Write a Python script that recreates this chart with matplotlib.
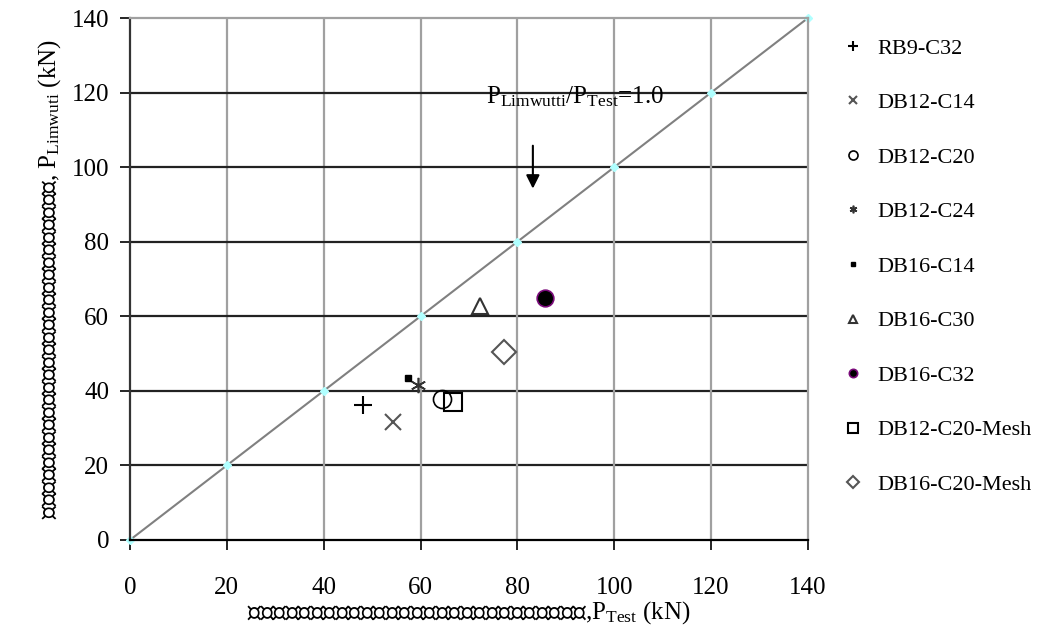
import matplotlib
matplotlib.use("Agg")
import matplotlib.pyplot as plt
from matplotlib import font_manager
from matplotlib.ft2font import FT2Font

# look for any installed font that has Thai glyphs
thai_fonts = []
for f in font_manager.fontManager.ttflist:
    try:
        if 0x0E01 in FT2Font(f.fname).get_charmap():
            thai_fonts.append(f.name)
    except Exception:
        pass
thai_fonts = sorted(set(thai_fonts))

plt.rcParams['font.family'] = ['Liberation Serif'] + thai_fonts + ['DejaVu Sans']
plt.rcParams['mathtext.fontset'] = 'custom'
plt.rcParams['mathtext.rm'] = 'Liberation Serif'
plt.rcParams['mathtext.it'] = 'Liberation Serif:italic'

# data
series_names = ['RB9-C32', 'DB12-C14', 'DB12-C20', 'DB12-C24', 'DB16-C14',
                'DB16-C30', 'DB16-C32', 'DB12-C20-Mesh', 'DB16-C20-Mesh']
p_test = [48.1, 54.3, 64.4, 59.5, 57.4, 72.3, 85.7, 66.7, 77.2]
p_calc = [36.2, 31.6, 37.8, 41.6, 43.4, 62.7, 64.9, 37.0, 50.4]
ref_line = [0, 20, 40, 60, 80, 100, 120, 140]
ticks = [0, 20, 40, 60, 80, 100, 120, 140]

markers = ['+', 'x', 'o', (6, 2, 0), 's', '^', 'o', 's', 'D']
sizes = [13, 12, 13, 11, 5, 12, 12, 13, 12]
faces = ['black', '#555555', 'none', 'black', 'black', 'none', 'black', 'none', 'none']
edges = ['black', '#555555', 'black', '#333333', 'black', '#333333', '#7a0a7a', 'black', '#555555']
widths = [1.5, 1.5, 1.2, 1.2, 1.0, 1.5, 1.2, 1.5, 1.5]

fig = plt.figure(figsize=(10.6, 6.44), dpi=100)
ax = fig.add_axes([0.1226, 0.1615, 0.6396, 0.8105])

ax.plot(ref_line, ref_line, color='#808080', lw=1.5, marker='D', ms=4.5,
        mfc='#b0ffff', mec='#b0ffff', zorder=2, clip_on=False)

handles = []
for i, name in enumerate(series_names):
    h, = ax.plot([p_test[i]], [p_calc[i]], linestyle='none', marker=markers[i],
                 ms=sizes[i], mfc=faces[i], mec=edges[i], mew=widths[i],
                 label=name, zorder=3)
    handles.append(h)

ax.set_xlim(0, 140)
ax.set_ylim(0, 140)
ax.set_xticks(ticks)
ax.set_yticks(ticks)
ax.tick_params(labelsize=18, direction='out', length=7, width=1.2, color='black')
ax.tick_params(axis='x', pad=20)
ax.tick_params(axis='y', pad=8)

ax.grid(False)
for t in ticks[1:-1]:
    ax.axhline(t, color='#222222', lw=1.6, zorder=1)
    ax.axvline(t, color='#a0a0a0', lw=1.6, zorder=1)
ax.spines['top'].set_color('#a0a0a0')
ax.spines['right'].set_color('#a0a0a0')
ax.spines['left'].set_color('#333333')
ax.spines['bottom'].set_color('black')
for s in ax.spines.values():
    s.set_linewidth(1.6)

ax.set_xlabel('กำลังรับแรงเฉือนจากการทดสอบ,P$_{\\mathrm{Test}}$ (kN)', fontsize=18, labelpad=0)
ax.set_ylabel('กำลังรับแรงเฉือนจากการคำนวณ, P$_{\\mathrm{Limwuti}}$ (kN)', fontsize=18, labelpad=6)

ax.annotate('', xy=(83.2, 93.5), xytext=(83.2, 106.5),
            arrowprops=dict(arrowstyle='-|>', color='black', lw=1.5, mutation_scale=20))
ax.text(73.5, 119, 'P$_{\\mathrm{Limwutti}}$/P$_{\\mathrm{Test}}$=1.0', fontsize=18,
        ha='left', va='center')

leg = ax.legend(handles=handles, loc='upper left', bbox_to_anchor=(1.02, 1.0),
                frameon=False, fontsize=16, markerscale=0.5, handlelength=1.0,
                handletextpad=0.6, labelspacing=1.53, borderaxespad=0.5)

fig.savefig('out.png', dpi=100)
